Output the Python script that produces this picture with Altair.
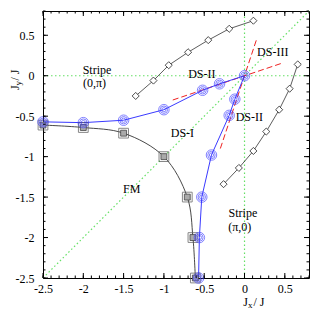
import altair as alt
import pandas as pd

# ---- data ----
blue_x = [-2.5, -2.0, -1.5, -1.0, -0.52, -0.31, 0.0, -0.12, -0.19, -0.41, -0.53, -0.56, -0.57]
blue_y = [-0.57, -0.58, -0.55, -0.42, -0.18, -0.10, 0.0, -0.29, -0.49, -0.98, -1.5, -2.0, -2.5]
sq_x = [-2.5, -2.0, -1.5, -1.0, -0.71, -0.64, -0.61]
sq_y = [-0.61, -0.64, -0.71, -1.0, -1.5, -2.0, -2.5]
dia1_x = [-1.35, -1.13, -0.94, -0.70, -0.45, -0.19, 0.11]
dia1_y = [-0.25, -0.06, 0.13, 0.29, 0.44, 0.58, 0.68]
dia2_x = [-0.26, -0.07, 0.11, 0.27, 0.43, 0.56, 0.66]
dia2_y = [-1.34, -1.14, -0.93, -0.69, -0.42, -0.16, 0.14]

green_x1 = [0.0, -2.5, -2.5]
green_y1 = [-2.5, 0.0, -2.5]
green_x2 = [0.0, 0.8, 0.8]
green_y2 = [0.8, 0.0, 0.8]
red_x1 = [-0.89, -0.30]
red_y1 = [-0.30, -0.90]
red_x2 = [0.45, 0.15]
red_y2 = [0.15, 0.45]

lab_text = ["Stripe", "(0,π)", "DS-II", "DS-III", "DS-II", "DS-I", "FM", "Stripe", "(π,0)"]
lab_x = [-1.83, -1.86, -0.53, 0.35, 0.06, -0.77, -1.40, -0.02, -0.06]
lab_y = [0.07, -0.09, 0.02, 0.29, -0.51, -0.71, -1.40, -1.70, -1.87]

major_ticks = [-2.5, -2.0, -1.5, -1.0, -0.5, 0.0, 0.5]
minor_ticks = [round(-2.5 + 0.1 * i, 2) for i in range(34)]

W, H = 266, 267
FONT = "Liberation Serif"
xs = alt.Scale(domain=[-2.5, 0.8], nice=False, zero=False)
ys = alt.Scale(domain=[-2.5, 0.8], nice=False, zero=False)
ax_common = dict(values=major_ticks, labelExpr="'' + datum.value", ticks=False, domain=False,
                 grid=False, title=None, labelFont=FONT, labelFontSize=12, labelColor="black",
                 labelFlush=False, labelOverlap=False)
xaxis = alt.Axis(labelPadding=5, **ax_common)
yaxis = alt.Axis(labelPadding=9, **ax_common)


def X(f="x"):
    return alt.X(f, type="quantitative", scale=xs, axis=xaxis)


def Y(f="y"):
    return alt.Y(f, type="quantitative", scale=ys, axis=yaxis)


blue = pd.DataFrame({"x": blue_x, "y": blue_y, "i": list(range(len(blue_x)))})
sq = pd.DataFrame({"x": sq_x, "y": sq_y, "i": list(range(len(sq_x)))})
d1 = pd.DataFrame({"x": dia1_x, "y": dia1_y, "i": list(range(len(dia1_x)))})
d2 = pd.DataFrame({"x": dia2_x, "y": dia2_y, "i": list(range(len(dia2_x)))})
green = pd.DataFrame({"x": green_x1, "y": green_y1, "x2": green_x2, "y2": green_y2})
red = pd.DataFrame({"x": red_x1, "y": red_y1, "x2": red_x2, "y2": red_y2})
labs = pd.DataFrame({"x": lab_x, "y": lab_y, "t": lab_text})
majt = pd.DataFrame({"x": major_ticks, "y": major_ticks})
mint = pd.DataFrame({"x": minor_ticks, "y": minor_ticks})

layers = []
layers.append(alt.Chart(green).mark_rule(color="#66e066", strokeDash=[1.5, 2.5], strokeWidth=1.2).encode(
    x=X(), y=Y(), x2="x2", y2="y2"))
layers.append(alt.Chart(red).mark_rule(color="#ee2222", strokeDash=[6, 3], strokeWidth=1).encode(
    x=X(), y=Y(), x2="x2", y2="y2"))
layers.append(alt.Chart(sq).mark_line(color="#333333", strokeWidth=0.9, interpolate="catmull-rom").encode(
    x=X(), y=Y(), order="i:Q"))
for d in (d1, d2):
    layers.append(alt.Chart(d).mark_line(color="#333333", strokeWidth=0.8).encode(x=X(), y=Y(), order="i:Q"))
layers.append(alt.Chart(blue).mark_line(color="#3a3aff", strokeWidth=1).encode(x=X(), y=Y(), order="i:Q"))

# square markers
layers.append(alt.Chart(sq).mark_point(shape="square", size=95, color="#555555", strokeWidth=1, filled=False).encode(x=X(), y=Y()))
layers.append(alt.Chart(sq).mark_point(shape="square", size=35, fill="#aaaaaa", stroke="#444444", strokeWidth=0.8, filled=True, opacity=1).encode(x=X(), y=Y()))
# diamond markers
for d in (d1, d2):
    layers.append(alt.Chart(d).mark_point(shape="diamond", size=50, fill="white", stroke="#222222", strokeWidth=0.8, filled=True, opacity=1).encode(x=X(), y=Y()))
# blue circles (concentric rings)
for s in (110, 55, 18):
    layers.append(alt.Chart(blue).mark_point(shape="circle", size=s, color="#3a3aff", strokeWidth=0.9, filled=False).encode(x=X(), y=Y()))

# region labels
layers.append(alt.Chart(labs).mark_text(font=FONT, fontSize=12, color="black", align="center", baseline="middle").encode(
    x=X(), y=Y(), text="t:N"))

# inward ticks on all four sides
for df, L in ((majt, 5), (mint, 2.5)):
    layers.append(alt.Chart(df).mark_rule(color="black", strokeWidth=1).encode(x=X(), y=alt.value(H), y2=alt.value(H - L)))
    layers.append(alt.Chart(df).mark_rule(color="black", strokeWidth=1).encode(x=X(), y=alt.value(0), y2=alt.value(L)))
    layers.append(alt.Chart(df).mark_rule(color="black", strokeWidth=1).encode(y=Y(), x=alt.value(0), x2=alt.value(L)))
    layers.append(alt.Chart(df).mark_rule(color="black", strokeWidth=1).encode(y=Y(), x=alt.value(W), x2=alt.value(W - L)))

one = alt.Data(values=[{}])


def txt(s, x, y, size=12, angle=0):
    return alt.Chart(one).mark_text(font=FONT, fontSize=size, color="black", align="left",
                                    baseline="alphabetic", angle=angle).encode(
        x=alt.value(x), y=alt.value(y), text=alt.value(s))


# axis titles with subscripts
layers.append(txt("J", 200.3, 294.5))
layers.append(txt("x", 205, 296.5, size=9))
layers.append(txt("/ J", 210.5, 294.5))
layers.append(txt("J", -24, 79, angle=270))
layers.append(txt("y", -22, 74.5, size=9, angle=270))
layers.append(txt("/ J", -24, 69.5, angle=270))

chart = alt.layer(*layers).properties(
    width=W, height=H,
    padding={"left": 35, "top": 3, "right": 15, "bottom": 30},
    autosize="none",
).configure_view(stroke="black", strokeWidth=1)

chart.save("out.html", embed_options={"renderer": "svg", "actions": False})
